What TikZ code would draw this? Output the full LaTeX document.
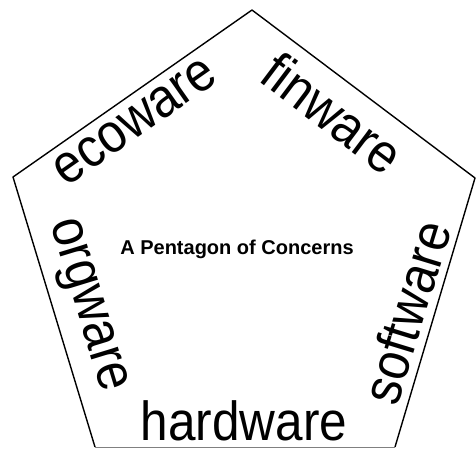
\documentclass[tikz,border=0pt]{standalone}
\usepackage{fontspec}
\setmainfont{Liberation Sans}
\newfontfamily\tallfont[FakeStretch=0.9]{Liberation Sans}
\usetikzlibrary{positioning}

\begin{document}
\begin{tikzpicture}[
  x=1pt, y=-1pt,
  edge/.style={line width=1.4pt, line join=round},
  lbl/.style={font=\tallfont\fontsize{55}{55}\selectfont, inner sep=0pt},
  ttl/.style={font=\bfseries\fontsize{20}{20}\selectfont, inner sep=0pt}
]
\useasboundingbox (0,0) rectangle (476,448);
\coordinate (t) at (252,10);
\coordinate (r) at (475,178);
\coordinate (br) at (395,447);
\coordinate (bl) at (95,447);
\coordinate (l) at (13,177);
\draw[edge] (bl) -- (l) -- (t) -- (r) -- (br);
\draw[gray, thin] (br) -- (bl);
\node[ttl] (title) at (237,249) {A Pentagon of Concerns};
\node[lbl, rotate=35] (eco) at (135,122) {ecoware};
\node[lbl, rotate=-37] (fin) at (333,113) {finware};
\node[lbl, rotate=73] (soft) at (406,312) {software};
\node[lbl, rotate=-73] (org) at (85,306) {orgware};
\node[lbl, anchor=base] (hard) at (244,440) {hardware};
\end{tikzpicture}
\end{document}
